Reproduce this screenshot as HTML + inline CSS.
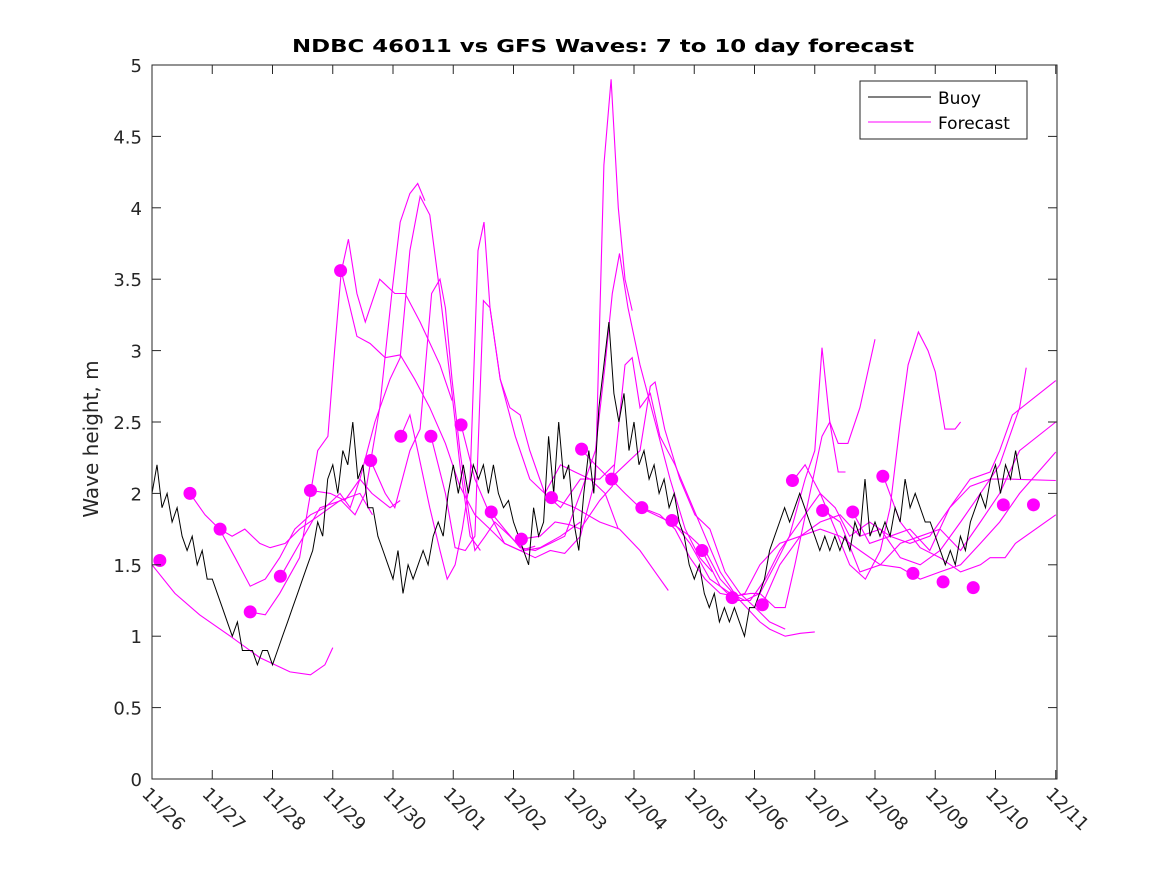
<!DOCTYPE html>
<html><head><meta charset="utf-8"><style>
body{margin:0;background:#fff;}
svg text{font-family:"DejaVu Sans","Liberation Sans",sans-serif;}
</style></head><body>
<svg id="chart" width="1167" height="875" xmlns="http://www.w3.org/2000/svg">
<rect width="1167" height="875" fill="#fff"/>
<defs><clipPath id="plotclip"><rect x="152" y="65" width="905" height="714"/></clipPath></defs>
<rect x="152" y="65" width="905" height="714" fill="#fff"/>
<g id="lines" clip-path="url(#plotclip)"></g>
<g id="dots"></g>
<rect x="152" y="65" width="905" height="714" fill="none" stroke="#262626" stroke-width="1"/>
<g id="axes"></g>
<text x="603" y="52" text-anchor="middle" font-size="18" font-weight="bold" fill="#000" textLength="622" lengthAdjust="spacingAndGlyphs">NDBC 46011 vs GFS Waves: 7 to 10 day forecast</text>
<text transform="translate(98,439) rotate(-90)" text-anchor="middle" font-size="20" fill="#262626">Wave height, m</text>
<g>
<rect x="860" y="81" width="167" height="58" fill="#fff" stroke="#262626" stroke-width="1"/>
<line x1="868" y1="97" x2="931" y2="97" stroke="#000" stroke-width="1"/>
<text x="938" y="104" font-size="17" fill="#000">Buoy</text>
<line x1="868" y1="122" x2="931" y2="122" stroke="#ff00ff" stroke-width="1"/>
<text x="938" y="129" font-size="17" fill="#000">Forecast</text>
</g>
</svg>
<script>
const xTickLabels=["11/26","11/27","11/28","11/29","11/30","12/01","12/02","12/03","12/04","12/05","12/06","12/07","12/08","12/09","12/10","12/11"];
const yTicks=[0,0.5,1,1.5,2,2.5,3,3.5,4,4.5,5];
const buoyStartDay=0;
const buoyStepDays=1/12;
const buoyValues=[2.0,2.2,1.9,2.0,1.8,1.9,1.7,1.6,1.7,1.5,1.6,1.4,1.4,1.3,1.2,1.1,1.0,1.1,0.9,0.9,0.9,0.8,0.9,0.9,0.8,0.9,1.0,1.1,1.2,1.3,1.4,1.5,1.6,1.8,1.7,2.1,2.2,2.0,2.3,2.2,2.5,2.1,2.2,1.9,1.9,1.7,1.6,1.5,1.4,1.6,1.3,1.5,1.4,1.5,1.6,1.5,1.7,1.8,1.7,2.0,2.2,2.0,2.2,2.0,2.2,2.1,2.2,2.0,2.2,2.0,1.9,1.95,1.8,1.7,1.6,1.5,1.9,1.7,1.8,2.4,2.0,2.5,2.1,2.2,1.8,1.6,2.0,2.3,2.0,2.6,2.9,3.2,2.7,2.5,2.7,2.3,2.5,2.2,2.3,2.1,2.2,2.0,2.1,1.9,2.0,1.8,1.7,1.5,1.4,1.5,1.3,1.2,1.3,1.1,1.2,1.1,1.2,1.1,1.0,1.2,1.2,1.3,1.4,1.6,1.7,1.8,1.9,1.8,1.9,2.0,1.9,1.8,1.7,1.6,1.7,1.6,1.7,1.6,1.7,1.6,1.8,1.7,2.1,1.7,1.8,1.7,1.8,1.7,1.9,1.8,2.1,1.9,2.0,1.9,1.8,1.8,1.7,1.6,1.5,1.6,1.5,1.7,1.6,1.8,1.9,2.0,1.9,2.1,2.2,2.0,2.2,2.1,2.3,2.1];
const fcTimes=[
[0,.38,.79,1.30,1.79,2.29,2.63,2.87,3.00],
[.63,.88,1.12,1.33,1.54,1.79,1.96,2.21,2.45,2.79,3.12,3.45,3.66],
[1.12,1.38,1.63,1.88,2.12,2.37,2.63,2.87,3.12,3.29,3.45,3.65,3.95,4.12],
[1.63,1.88,2.12,2.45,2.75,2.92,3.03,3.14,3.26,3.40,3.54,3.78,4.03,4.20,4.45,4.78,4.98],
[2.14,2.45,2.79,3.14,3.37,3.54,3.78,3.98,4.12,4.28,4.41,4.53],
[2.64,2.96,3.20,3.45,3.70,3.95,4.12,4.28,4.45,4.61,4.78,4.98,5.11,5.28,5.45],
[3.14,3.40,3.62,3.87,4.12,4.36,4.61,4.87,5.11,5.36,5.61,5.85,6.11,6.36],
[3.63,3.87,4.03,4.28,4.45,4.64,4.78,4.87,4.98,5.11,5.28,5.36,5.53,5.69,5.94,6.19,6.44,6.78,7.11],
[4.13,4.28,4.41,4.61,4.78,4.90,5.03,5.15,5.28,5.41,5.51,5.61,5.78,5.94,6.11,6.27,6.52,6.78,7.11,7.43,7.67],
[4.63,4.87,5.03,5.20,5.36,5.50,5.61,5.78,6.03,6.27,6.52,6.78,7.02,7.27,7.52,7.74],
[5.13,5.36,5.61,5.85,6.11,6.36,6.61,6.85,7.11,7.36,7.50,7.62,7.74,7.85,7.97],
[5.62,5.85,6.11,6.36,6.61,6.85,7.11,7.36,7.52,7.64,7.76,7.90,8.10,8.35,8.60,8.85,9.09,9.30],
[6.13,6.44,6.69,6.94,7.11,7.27,7.43,7.64,7.85,7.97,8.10,8.27,8.43,8.68,8.93,9.18,9.43,9.67],
[6.62,7.02,7.43,7.76,8.10,8.35,8.57],
[7.12,7.36,7.60,7.85,8.10,8.27,8.35,8.51,8.76,9.01,9.26,9.51,9.76,10.01,10.25,10.51],
[7.62,7.85,8.10,8.35,8.60,8.93,9.18,9.43,9.76,10.09,10.25,10.51,10.76,11.00],
[8.13,8.43,8.68,8.93,9.18,9.43,9.67,9.93,10.09,10.34,10.51,10.67,10.92,11.12,11.25,11.39,11.51],
[8.63,8.93,9.26,9.60,9.84,10.09,10.34,10.58,10.84,11.00,11.12,11.25,11.39,11.55,11.75,12.00],
[9.13,9.43,9.67,9.93,10.18,10.42,10.67,10.92,11.09,11.34,11.58,11.84,12.09,12.25,12.42,12.55,12.72,12.88,13.00,13.16,13.33,13.42],
[9.63,9.84,10.09,10.42,10.76,11.09,11.42,11.75,12.09,12.42,12.75,13.08,13.42,13.75,14.07,14.40,14.51],
[10.13,10.42,10.76,11.09,11.42,11.75,12.09,12.42,12.75,13.08,13.42,13.75,14.07,14.40,15],
[10.64,10.84,11.09,11.34,11.58,11.91,12.25,12.58,12.91,13.24,13.58,13.91,14.07,14.28,15],
[11.14,11.42,11.75,12.09,12.42,12.75,13.08,13.42,13.75,14.07,14.40,15],
[11.63,11.91,12.25,12.58,12.91,13.24,13.58,13.91,14.24,15],
[12.14,12.42,12.75,13.08,13.42,13.75,13.91,14.16,14.33,15]
];
const fcValues=[
[1.5,1.3,1.15,1.0,0.85,0.75,0.73,0.8,0.92],
[2.0,1.85,1.75,1.7,1.75,1.65,1.62,1.65,1.75,1.85,1.95,2.0,1.85],
[1.75,1.55,1.35,1.4,1.55,1.75,1.85,1.9,2.0,1.9,2.1,2.0,1.9,1.95],
[1.17,1.15,1.3,1.55,2.3,2.4,3.0,3.55,3.78,3.4,3.2,3.5,3.4,3.4,3.2,2.9,2.65],
[1.42,1.65,1.9,1.95,1.85,2.0,2.6,3.4,3.9,4.1,4.17,4.05],
[2.02,2.0,1.95,2.1,2.5,2.8,2.95,3.7,4.08,3.95,3.4,2.7,2.2,1.7,1.6],
[3.56,3.1,3.05,2.95,2.97,2.8,2.6,2.35,2.05,1.85,1.75,1.65,1.6,1.63],
[2.23,2.0,1.9,2.3,2.45,3.4,3.5,3.3,2.8,2.3,1.8,1.6,1.7,1.8,1.7,1.6,1.62,1.7,1.8],
[2.4,2.55,2.3,1.9,1.6,1.4,1.5,1.75,2.1,3.7,3.9,3.3,2.8,2.6,2.55,2.3,2.0,1.9,2.1,2.1,2.2],
[2.4,2.0,1.62,1.6,1.7,3.35,3.3,2.8,2.4,2.1,2.0,2.2,2.15,2.1,2.0,1.75],
[2.48,2.1,1.85,1.65,1.6,1.55,1.6,1.58,1.7,2.1,4.3,4.9,4.0,3.5,3.28],
[1.87,1.75,1.62,1.6,1.65,1.7,2.0,2.3,2.9,3.4,3.68,3.3,2.9,2.5,2.1,1.75,1.55,1.45],
[1.68,1.7,1.8,1.78,1.75,1.85,1.95,2.05,2.9,2.95,2.6,2.7,2.4,2.2,1.95,1.7,1.45,1.3],
[1.97,1.9,1.8,1.75,1.6,1.45,1.32],
[2.31,2.2,2.1,2.2,2.3,2.75,2.78,2.45,2.1,1.85,1.75,1.45,1.3,1.2,1.1,1.05],
[2.1,2.0,1.9,1.85,1.8,1.7,1.6,1.4,1.25,1.1,1.05,1.0,1.02,1.03],
[1.9,1.85,1.75,1.55,1.4,1.3,1.28,1.3,1.3,1.2,1.2,1.5,2.0,2.4,2.5,2.15,2.15],
[1.81,1.65,1.4,1.3,1.25,1.3,1.5,1.7,2.1,2.3,3.02,2.5,2.35,2.35,2.6,3.08],
[1.6,1.35,1.25,1.25,1.4,1.6,1.75,1.9,2.0,1.75,1.5,1.4,1.6,1.9,2.5,2.9,3.13,3.0,2.85,2.45,2.45,2.5],
[1.27,1.3,1.5,1.65,1.7,1.8,1.85,1.7,1.75,1.55,1.5,1.6,1.8,2.0,2.2,2.6,2.88],
[1.22,1.5,1.7,1.75,1.7,1.6,1.5,1.65,1.7,1.75,1.6,1.8,2.0,2.3,2.5],
[2.09,2.2,2.0,1.9,1.7,1.8,1.7,1.75,1.6,1.9,2.1,2.15,2.3,2.55,2.79],
[1.88,1.8,1.45,1.5,1.48,1.4,1.45,1.5,1.65,1.8,2.0,2.29],
[1.87,1.65,1.7,1.65,1.7,1.9,2.05,2.1,2.1,2.09],
[2.12,1.8,1.62,1.55,1.45,1.5,1.55,1.55,1.65,1.85]
];
const dotTimes=[.13,.63,1.13,1.63,2.13,2.63,3.13,3.63,4.13,4.63,5.13,5.63,6.13,6.63,7.13,7.63,8.13,8.63,9.13,9.63,10.13,10.63,11.13,11.63,12.13,12.63,13.13,13.63,14.13,14.63];
const dotValues=[1.53,2.0,1.75,1.17,1.42,2.02,3.56,2.23,2.4,2.4,2.48,1.87,1.68,1.97,2.31,2.1,1.9,1.81,1.6,1.27,1.22,2.09,1.88,1.87,2.12,1.44,1.38,1.34,1.92,1.92];

const NS="http://www.w3.org/2000/svg";
const X0=152,Y0=779,Y1=65,PXD=60.25,XE=1057;
function xs(d){return X0+d*PXD;}
function ys(v){return Y0-(v/5)*(Y0-Y1);}
const axes=document.getElementById('axes'),lines=document.getElementById('lines'),dots=document.getElementById('dots');
function mk(tag,attrs,parent){const e=document.createElementNS(NS,tag);for(const k in attrs)e.setAttribute(k,attrs[k]);parent.appendChild(e);return e;}
yTicks.forEach(v=>{
  const y=ys(v);
  mk('line',{x1:X0,y1:y,x2:X0+9,y2:y,stroke:'#262626'},axes);
  mk('line',{x1:XE,y1:y,x2:XE-9,y2:y,stroke:'#262626'},axes);
  const t=mk('text',{x:X0-10,y:y+7,'text-anchor':'end','font-size':'18',fill:'#262626'},axes);
  t.textContent=String(v);
  
  
});
xTickLabels.forEach((lab,i)=>{
  const x=xs(i);
  mk('line',{x1:x,y1:Y0,x2:x,y2:Y0-9,stroke:'#262626'},axes);
  mk('line',{x1:x,y1:Y1,x2:x,y2:Y1+9,stroke:'#262626'},axes);
  const t=mk('text',{transform:`translate(${x-11},${Y0+16}) rotate(45)`,'font-size':'18',fill:'#262626'},axes);
  t.textContent=lab;
  
  
});
fcTimes.forEach((ts,i)=>{
  const vs=fcValues[i];
  const p=mk('polyline',{points:ts.map((t,j)=>xs(t).toFixed(1)+','+ys(vs[j]).toFixed(1)).join(' '),fill:'none',stroke:'#ff00ff','stroke-width':'1.1'},lines);
  
  
});
const bl=mk('polyline',{points:buoyValues.map((v,k)=>xs(buoyStartDay+k*buoyStepDays).toFixed(1)+','+ys(v).toFixed(1)).join(' '),fill:'none',stroke:'#000','stroke-width':'1'},lines);


dotTimes.forEach((t,i)=>{
  const c=mk('circle',{cx:xs(t),cy:ys(dotValues[i]),r:6.5,fill:'#ff00ff'},dots);
  
  
});
</script>
</body></html>
